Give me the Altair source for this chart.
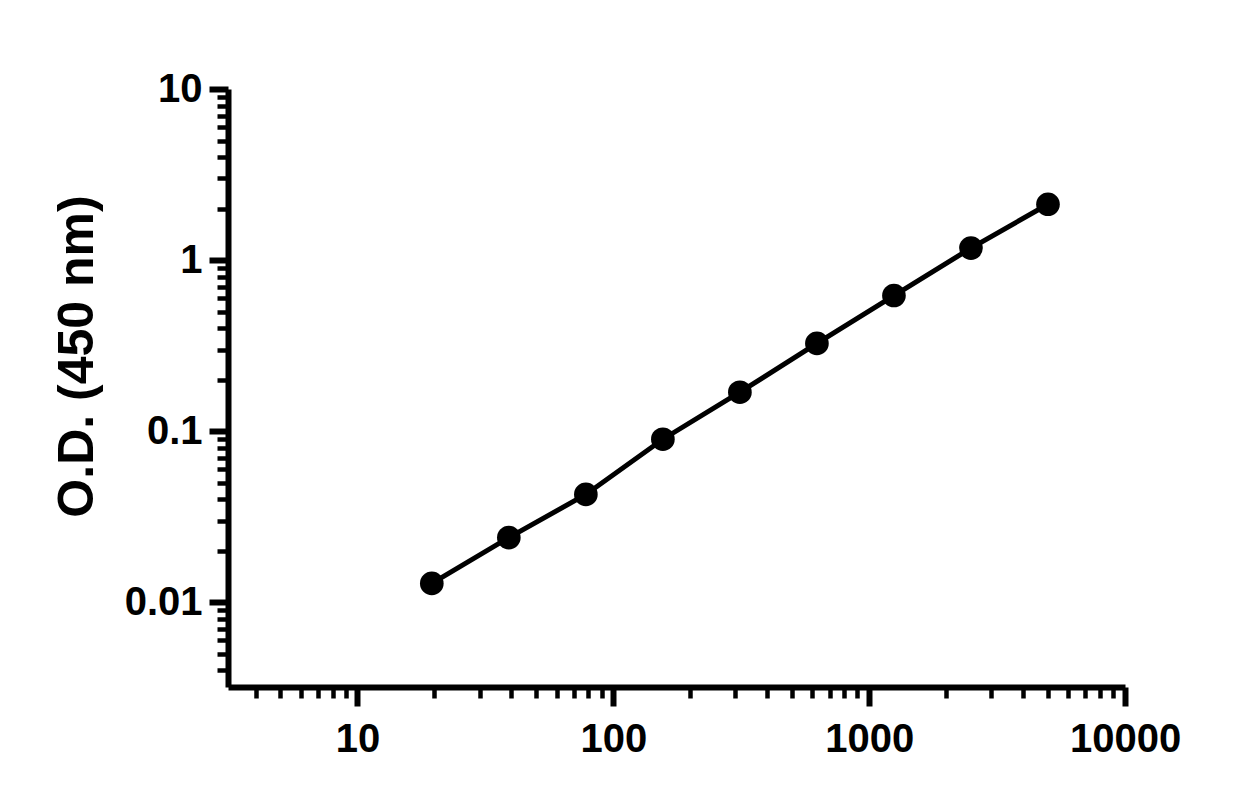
import altair as alt
import pandas as pd

# standard curve: concentration vs O.D.
conc = [19.53, 39.06, 78.13, 156.25, 312.5, 625, 1250, 2500, 5000]
od = [0.0129, 0.0239, 0.0427, 0.0898, 0.169, 0.326, 0.621, 1.175, 2.12]

x_major = [10, 100, 1000, 10000]
x_ticks = [4, 5, 6, 7, 8, 9, 10,
           20, 30, 40, 50, 60, 70, 80, 90, 100,
           200, 300, 400, 500, 600, 700, 800, 900, 1000,
           2000, 3000, 4000, 5000, 6000, 7000, 8000, 9000, 10000]
y_major = [0.01, 0.1, 1, 10]
y_ticks = [0.004, 0.005, 0.006, 0.007, 0.008, 0.009, 0.01,
           0.02, 0.03, 0.04, 0.05, 0.06, 0.07, 0.08, 0.09, 0.1,
           0.2, 0.3, 0.4, 0.5, 0.6, 0.7, 0.8, 0.9, 1,
           2, 3, 4, 5, 6, 7, 8, 9, 10]

FONT = "'Liberation Sans Narrow', 'Liberation Sans', Arial, sans-serif"

df = pd.DataFrame({"conc": conc, "od": od})


def is_major(values):
    return f"indexof({values}, datum.value) >= 0"


def log_axis(major, ticks, **kw):
    return alt.Axis(
        values=ticks, format="~g", grid=False,
        labelExpr=f"{is_major(major)} ? datum.label : ''",
        labelOverlap=False, labelFlush=False,
        tickSize={"condition": {"test": is_major(major), "value": 19}, "value": 11},
        tickWidth={"condition": {"test": is_major(major), "value": 6}, "value": 4.5},
        tickColor="black", domainColor="black", domainWidth=6,
        labelFont=FONT, labelFontSize=40, labelFontWeight="bold", labelColor="black",
        **kw,
    )


x_axis = log_axis(x_major, x_ticks, title=None, labelPadding=13)
y_axis = log_axis(
    y_major, y_ticks, title="O.D. (450 nm)", labelPadding=7,
    titleFont=FONT, titleFontSize=50, titleFontWeight="bold", titleColor="black",
    titlePadding=22, titleY=267,
)

x_enc = alt.X("conc:Q", scale=alt.Scale(type="log", domain=[3.12, 10000], nice=False), axis=x_axis)
y_enc = alt.Y("od:Q", scale=alt.Scale(type="log", domain=[0.0032, 10], nice=False), axis=y_axis)

line = alt.Chart(df).mark_line(color="black", strokeWidth=5).encode(x=x_enc, y=y_enc)
points = alt.Chart(df).mark_circle(color="black", size=560, opacity=1).encode(x=x_enc, y=y_enc)

chart = (line + points).properties(
    width=897, height=598, padding={"left": 44, "top": 61, "right": 10, "bottom": 10}
).configure_view(stroke=None)

chart.save("out.html", embed_options={"renderer": "svg", "actions": False})
